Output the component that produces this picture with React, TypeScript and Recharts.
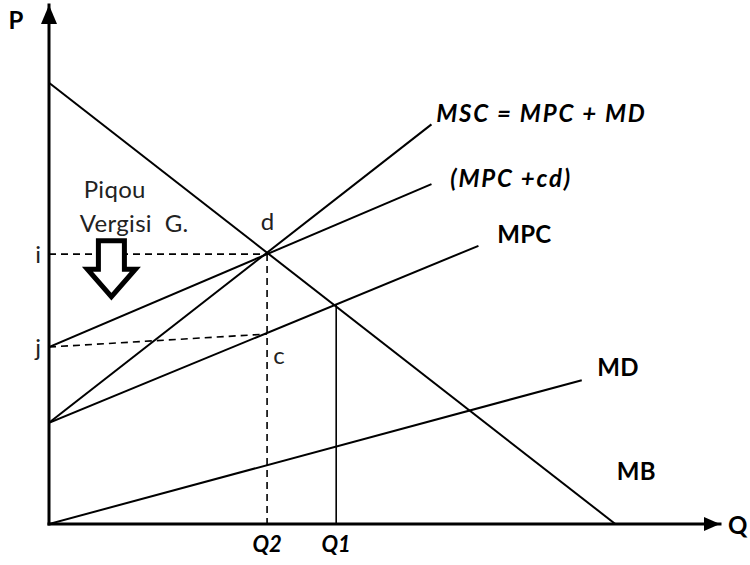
import React from "react";
import {
  ComposedChart,
  Line,
  XAxis,
  YAxis,
  ReferenceDot,
} from "recharts";

// quantity / price in arbitrary units, both axes run 0..100
const mbCurve = [
  { x: 0, y: 85 },
  { x: 84.4, y: 0 },
];
const mscCurve = [
  { x: 0, y: 19.5 },
  { x: 57, y: 77 },
];
const mpcCdCurve = [
  { x: 0, y: 34.1 },
  { x: 57, y: 65.5 },
];
const mpcCurve = [
  { x: 0, y: 19.5 },
  { x: 64, y: 53.6 },
];
const mdCurve = [
  { x: 0, y: 0 },
  { x: 79.4, y: 27.7 },
];

const Q2 = 32.5;
const Q1 = 42.8;
const PRICE_I = 52;
const PRICE_J = 34.1;
const PRICE_C = 36.6;
const PRICE_Q1 = 42.2;

const xTicks = [Q2, Q1];
const xTickLabels = ["Q2", "Q1"];
const yTicks = [PRICE_J, PRICE_I];
const yTickLabels = ["j", "i"];

const iGuide = [
  { x: 0, y: PRICE_I },
  { x: Q2, y: PRICE_I },
];
const q2Guide = [
  { x: Q2, y: PRICE_I },
  { x: Q2, y: 0 },
];
const jGuide = [
  { x: 0, y: PRICE_J },
  { x: Q2, y: PRICE_C },
];
const q1Guide = [
  { x: Q1, y: PRICE_Q1 },
  { x: Q1, y: 0 },
];

type Note = {
  text: string;
  x: number;
  y: number;
  bold?: boolean;
  italic?: boolean;
  anchor?: "start" | "middle" | "end";
};

const notes: Note[] = [
  { text: "P", x: -4.9, y: 97.3, bold: true, anchor: "middle" },
  { text: "Q", x: 101.2, y: 0, bold: true, anchor: "start" },
  { text: "Piqou", x: 9.8, y: 64.7, anchor: "middle" },
  { text: "Vergisi\u00a0\u00a0G.", x: 12.7, y: 58.0, anchor: "middle" },
  { text: "d", x: 32.6, y: 58.4, anchor: "middle" },
  { text: "c", x: 34.3, y: 32.6, anchor: "middle" },
  { text: "MSC = MPC + MD", x: 57.7, y: 79.2, bold: true, italic: true },
  { text: "(MPC +cd)", x: 59.8, y: 66.7, bold: true, italic: true },
  { text: "MPC", x: 66.8, y: 55.9, bold: true },
  { text: "MD", x: 81.7, y: 30.3, bold: true },
  { text: "MB", x: 84.6, y: 10.4, bold: true },
];

const FONT = "Lato, 'Open Sans', sans-serif";

function lineProps(width: number, dash?: string) {
  return {
    type: "linear" as const,
    dataKey: "y",
    stroke: "#000",
    strokeWidth: width,
    strokeDasharray: dash,
    dot: false,
    activeDot: false,
    legendType: "none" as const,
    isAnimationActive: false,
  };
}

function NoteShape(note: Note) {
  // eslint-disable-next-line @typescript-eslint/no-explicit-any
  return (p: any) => (
    <text
      x={p.cx}
      y={p.cy}
      textAnchor={note.anchor ?? "start"}
      dominantBaseline="central"
      fontFamily={FONT}
      fontSize={24}
      fontWeight={note.bold ? 700 : 400}
      fontStyle={note.italic ? "italic" : "normal"}
      letterSpacing={note.italic ? 1.8 : 0.3}
      fill={note.bold ? "#000" : "#222"}
    >
      {note.text}
    </text>
  );
}

// eslint-disable-next-line @typescript-eslint/no-explicit-any
function UpArrowHead(p: any) {
  return (
    <polygon
      points={`${p.cx},${p.cy} ${p.cx - 8},${p.cy + 19} ${p.cx + 8},${p.cy + 19}`}
      fill="#000"
    />
  );
}

// eslint-disable-next-line @typescript-eslint/no-explicit-any
function RightArrowHead(p: any) {
  return (
    <polygon
      points={`${p.cx},${p.cy} ${p.cx - 16},${p.cy - 7} ${p.cx - 16},${p.cy + 7}`}
      fill="#000"
    />
  );
}

// hollow arrow, anchored at the top middle of its shaft
// eslint-disable-next-line @typescript-eslint/no-explicit-any
function HollowDownArrow(p: any) {
  const { cx, cy } = p;
  const d = `M ${cx - 13} ${cy} L ${cx + 13} ${cy} L ${cx + 13} ${cy + 28.5} L ${cx + 24} ${cy + 28.5} L ${cx} ${cy + 56} L ${cx - 24} ${cy + 28.5} L ${cx - 13} ${cy + 28.5} Z`;
  return (
    <path d={d} fill="#fff" stroke="#000" strokeWidth={5} strokeLinejoin="miter" />
  );
}

export default function App() {
  return (
    <div style={{ position: "absolute", left: 0, top: 0, background: "#fff" }}>
      <ComposedChart
        width={750}
        height={565}
        margin={{ top: 5, right: 30, bottom: 11, left: 0 }}
      >
        <XAxis
          dataKey="x"
          type="number"
          domain={[0, 100]}
          ticks={xTicks}
          tickFormatter={(v: number) => xTickLabels[xTicks.indexOf(v)]}
          tickLine={false}
          tickMargin={6}
          interval={0}
          axisLine={{ stroke: "#000", strokeWidth: 3, strokeLinecap: "square" }}
          tick={{
            fill: "#000",
            fontSize: 22,
            fontWeight: 700,
            fontStyle: "italic",
            fontFamily: FONT,
          }}
          allowDataOverflow
        />
        <YAxis
          type="number"
          domain={[0, 100]}
          width={49}
          ticks={yTicks}
          tickFormatter={(v: number) => yTickLabels[yTicks.indexOf(v)]}
          tickLine={false}
          interval={0}
          axisLine={{ stroke: "#000", strokeWidth: 3, strokeLinecap: "square" }}
          tick={{ fill: "#222", fontSize: 24, fontFamily: FONT }}
          allowDataOverflow
        />

        <Line data={iGuide} {...lineProps(1.6, "7 5")} />
        <Line data={q2Guide} {...lineProps(1.6, "7 5")} />
        <Line data={jGuide} {...lineProps(1.6, "7 5")} />
        <Line data={q1Guide} {...lineProps(1.6)} />

        <Line data={mbCurve} {...lineProps(2)} />
        <Line data={mscCurve} {...lineProps(2)} />
        <Line data={mpcCdCurve} {...lineProps(2)} />
        <Line data={mpcCurve} {...lineProps(2)} />
        <Line data={mdCurve} {...lineProps(2)} />

        <ReferenceDot x={0} y={100} r={0} shape={UpArrowHead} ifOverflow="visible" />
        <ReferenceDot x={100} y={0} r={0} shape={RightArrowHead} ifOverflow="visible" />
        <ReferenceDot x={9.3} y={54.6} r={0} shape={HollowDownArrow} ifOverflow="visible" />

        {notes.map((n) => (
          <ReferenceDot
            key={n.text}
            x={n.x}
            y={n.y}
            r={0}
            shape={NoteShape(n)}
            ifOverflow="visible"
          />
        ))}
      </ComposedChart>
    </div>
  );
}
